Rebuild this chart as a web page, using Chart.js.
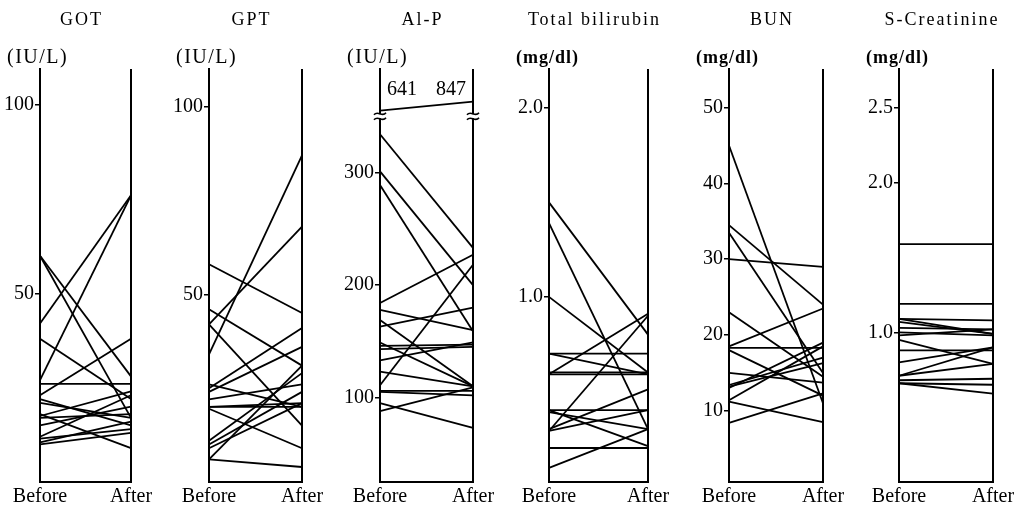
<!DOCTYPE html>
<html>
<head>
<meta charset="utf-8">
<script src="https://cdn.jsdelivr.net/npm/chart.js@4.4.1/dist/chart.umd.min.js"></script>
<style>
body { margin: 0; background: #fff; }
#wrap { position: relative; width: 1030px; height: 509px; overflow: hidden; }
canvas { position: absolute; top: 0; }
</style>
</head>
<body>
<div id="wrap"></div>
<script>
const labels = ["Before", "After"];

const gotBefore = [60, 60, 42, 38, 27, 26, 23, 22, 21, 18, 17.5, 17, 15, 12, 11.5, 10.5, 10];
const gotAfter  = [17, 28, 76, 22, 76, 26, 38, 15, 17, 9, 24, 18, 20, 23, 14, 16, 13];

const gptBefore = [58, 46, 42, 34, 42, 26, 25, 24, 22, 20, 20, 19.5, 11, 10, 9, 6, 6];
const gptAfter  = [45, 31, 68, 87, 15, 20, 41, 36, 26, 21, 20, 9, 29, 24, 21, 31, 4];

const alpBefore = [641, 334, 301, 289, 184, 178, 169, 163, 149, 146, 143, 133, 123, 111, 106, 105, 95, 88];
const alpAfter  = [847, 233, 200, 159, 227, 160, 110, 180, 110, 147, 145, 149, 110, 218, 106, 102, 73, 109];

const tbilBefore = [1.5, 1.39, 1.0, 0.70, 0.70, 0.60, 0.59, 0.59, 0.40, 0.40, 0.39, 0.30, 0.29, 0.29, 0.20, 0.095];
const tbilAfter  = [0.8, 0.30, 0.6, 0.70, 0.59, 0.60, 0.91, 0.59, 0.40, 0.21, 0.30, 0.51, 0.90, 0.40, 0.20, 0.30];

const bunBefore = [45, 34.5, 33.5, 30, 23, 18.5, 18.3, 18, 15, 13.4, 13.2, 13, 11.4, 11.2, 8.4];
const bunAfter  = [11, 24, 15, 29, 14.5, 23.5, 18.3, 12, 13.7, 17, 16.3, 19, 18.5, 8.5, 12.3];

const creBefore = [1.59, 1.19, 1.09, 1.09, 1.07, 1.03, 1.0, 0.98, 0.95, 0.88, 0.8, 0.71, 0.71, 0.68, 0.66, 0.66];
const creAfter  = [1.59, 1.19, 0.99, 1.08, 0.99, 1.02, 0.98, 1.02, 0.79, 0.88, 0.9, 0.9, 0.79, 0.69, 0.65, 0.59];

const gotTicks = [50, 100];
const gptTicks = [50, 100];
const alpTicks = [100, 200, 300];
const tbilTicks = [1.0, 2.0];
const bunTicks = [10, 20, 30, 40, 50];
const creTicks = [1.0, 2.0, 2.5];

// Al-P axis is broken above 350: values past the break are squeezed in
const ALP_BREAK = 350;
function alpAxis(v) {
    return v > ALP_BREAK ? 355 + (v - 641) * 0.039 : v;
}

const serif = '"Liberation Serif", "DejaVu Serif", serif';

const panelText = {
    id: "panelText",
    afterDraw(chart, args, opts) {
        const { ctx, chartArea } = chart;
        ctx.save();
        ctx.fillStyle = "#000";
        ctx.textBaseline = "middle";
        ctx.textAlign = "center";
        ctx.font = "18px " + serif;
        ctx.letterSpacing = "2px";
        ctx.fillText(opts.title, (chartArea.left + chartArea.right) / 2 - 4, 20);
        ctx.textAlign = "left";
        ctx.font = opts.unitFont;
        ctx.letterSpacing = opts.unitSpacing;
        ctx.fillText(opts.unit, chartArea.left - 33, 58);
        ctx.letterSpacing = "0px";

        if (opts.broken) {
            const y = chart.scales.y.getPixelForValue(ALP_BREAK);
            [chartArea.left, chartArea.right].forEach((x) => {
                ctx.fillStyle = "#fff";
                ctx.fillRect(x - 6, y - 2, 12, 4);
                ctx.strokeStyle = "#000";
                ctx.lineWidth = 1.6;
                [-2.5, 2.5].forEach((d) => {
                    ctx.beginPath();
                    ctx.moveTo(x - 6, y + d + 1);
                    ctx.bezierCurveTo(x - 2, y + d - 4, x + 2, y + d + 4, x + 6, y + d - 1);
                    ctx.stroke();
                });
            });
            // real values of the line above the break
            ctx.fillStyle = "#000";
            ctx.font = "20px " + serif;
            ctx.textAlign = "center";
            chart.data.datasets.forEach((ds, i) => {
                if (ds.real[0] > ALP_BREAK) {
                    const meta = chart.getDatasetMeta(i);
                    const p0 = meta.data[0], p1 = meta.data[1];
                    ctx.fillText(String(ds.real[0]), p0.x + 22, p0.y - 21);
                    ctx.fillText(String(ds.real[1]), p1.x - 22, p1.y - 12);
                }
            });
        }
        ctx.restore();
    },
};

function makePanel(p) {
    const canvas = document.createElement("canvas");
    const w = p.right - p.left + 70;
    canvas.width = w;
    canvas.height = 509;
    canvas.style.left = (p.left - 40) + "px";
    canvas.style.width = w + "px";
    canvas.style.height = "509px";
    document.getElementById("wrap").appendChild(canvas);

    const map = p.map || ((v) => v);
    const datasets = p.before.map((b, i) => ({
        data: [map(b), map(p.after[i])],
        real: [b, p.after[i]],
        borderColor: "#000",
        borderWidth: 1.8,
        pointRadius: 0,
        tension: 0,
        fill: false,
    }));

    new Chart(canvas, {
        type: "line",
        data: { labels: labels, datasets: datasets },
        options: {
            responsive: false,
            animation: false,
            layout: { padding: { top: 69, right: 30, left: 0, bottom: 0 } },
            plugins: {
                legend: { display: false },
                tooltip: { enabled: false },
                panelText: {
                    title: p.title,
                    unit: p.unit,
                    unitFont: p.unitFont,
                    unitSpacing: p.unitSpacing,
                    broken: !!p.map,
                },
            },
            scales: {
                x: {
                    type: "category",
                    offset: false,
                    grid: { display: true, color: "#000", lineWidth: 2, drawTicks: false },
                    border: { display: true, color: "#000", width: 2 },
                    ticks: { color: "#000", font: { family: serif, size: 20 }, padding: 3, maxRotation: 0 },
                    afterFit(s) {
                        s.height = 27;
                        s.paddingLeft = 0;
                        s.paddingRight = 0;
                    },
                },
                y: {
                    min: p.min,
                    max: p.max,
                    grid: { drawOnChartArea: false, color: "#000", lineWidth: 1.5, tickLength: 5 },
                    border: { display: true, color: "#000", width: 2 },
                    ticks: {
                        color: "#000",
                        padding: 1,
                        font: { family: serif, size: 20 },
                        callback: (v) => (p.decimals ? v.toFixed(1) : String(v)),
                    },
                    afterBuildTicks(s) {
                        s.ticks = p.ticks.map((v) => ({ value: v }));
                    },
                    afterFit(s) {
                        s.width = 40;
                        s.paddingTop = 0;
                        s.paddingBottom = 0;
                    },
                },
            },
        },
        plugins: [panelText],
    });
}

const unitIU = { unitFont: "20px " + serif, unitSpacing: "1.5px" };
const unitMg = { unitFont: "bold 18px " + serif, unitSpacing: "1px" };

makePanel({ title: "GOT", unit: "(IU/L)", ...unitIU, left: 40, right: 131, min: 0, max: 109.5,
    ticks: gotTicks, before: gotBefore, after: gotAfter });
makePanel({ title: "GPT", unit: "(IU/L)", ...unitIU, left: 209, right: 302, min: 0, max: 110,
    ticks: gptTicks, before: gptBefore, after: gptAfter });
makePanel({ title: "Al-P", unit: "(IU/L)", ...unitIU, left: 380, right: 473, min: 25, max: 392,
    ticks: alpTicks, before: alpBefore, after: alpAfter, map: alpAxis });
makePanel({ title: "Total bilirubin", unit: "(mg/dl)", ...unitMg, left: 549, right: 648, min: 0.02, max: 2.206,
    ticks: tbilTicks, decimals: true, before: tbilBefore, after: tbilAfter });
makePanel({ title: "BUN", unit: "(mg/dl)", ...unitMg, left: 729, right: 823, min: 0.6, max: 55.1,
    ticks: bunTicks, before: bunBefore, after: bunAfter });
makePanel({ title: "S-Creatinine", unit: "(mg/dl)", ...unitMg, left: 899, right: 993, min: 0, max: 2.76,
    ticks: creTicks, decimals: true, before: creBefore, after: creAfter });
</script>
</body>
</html>
